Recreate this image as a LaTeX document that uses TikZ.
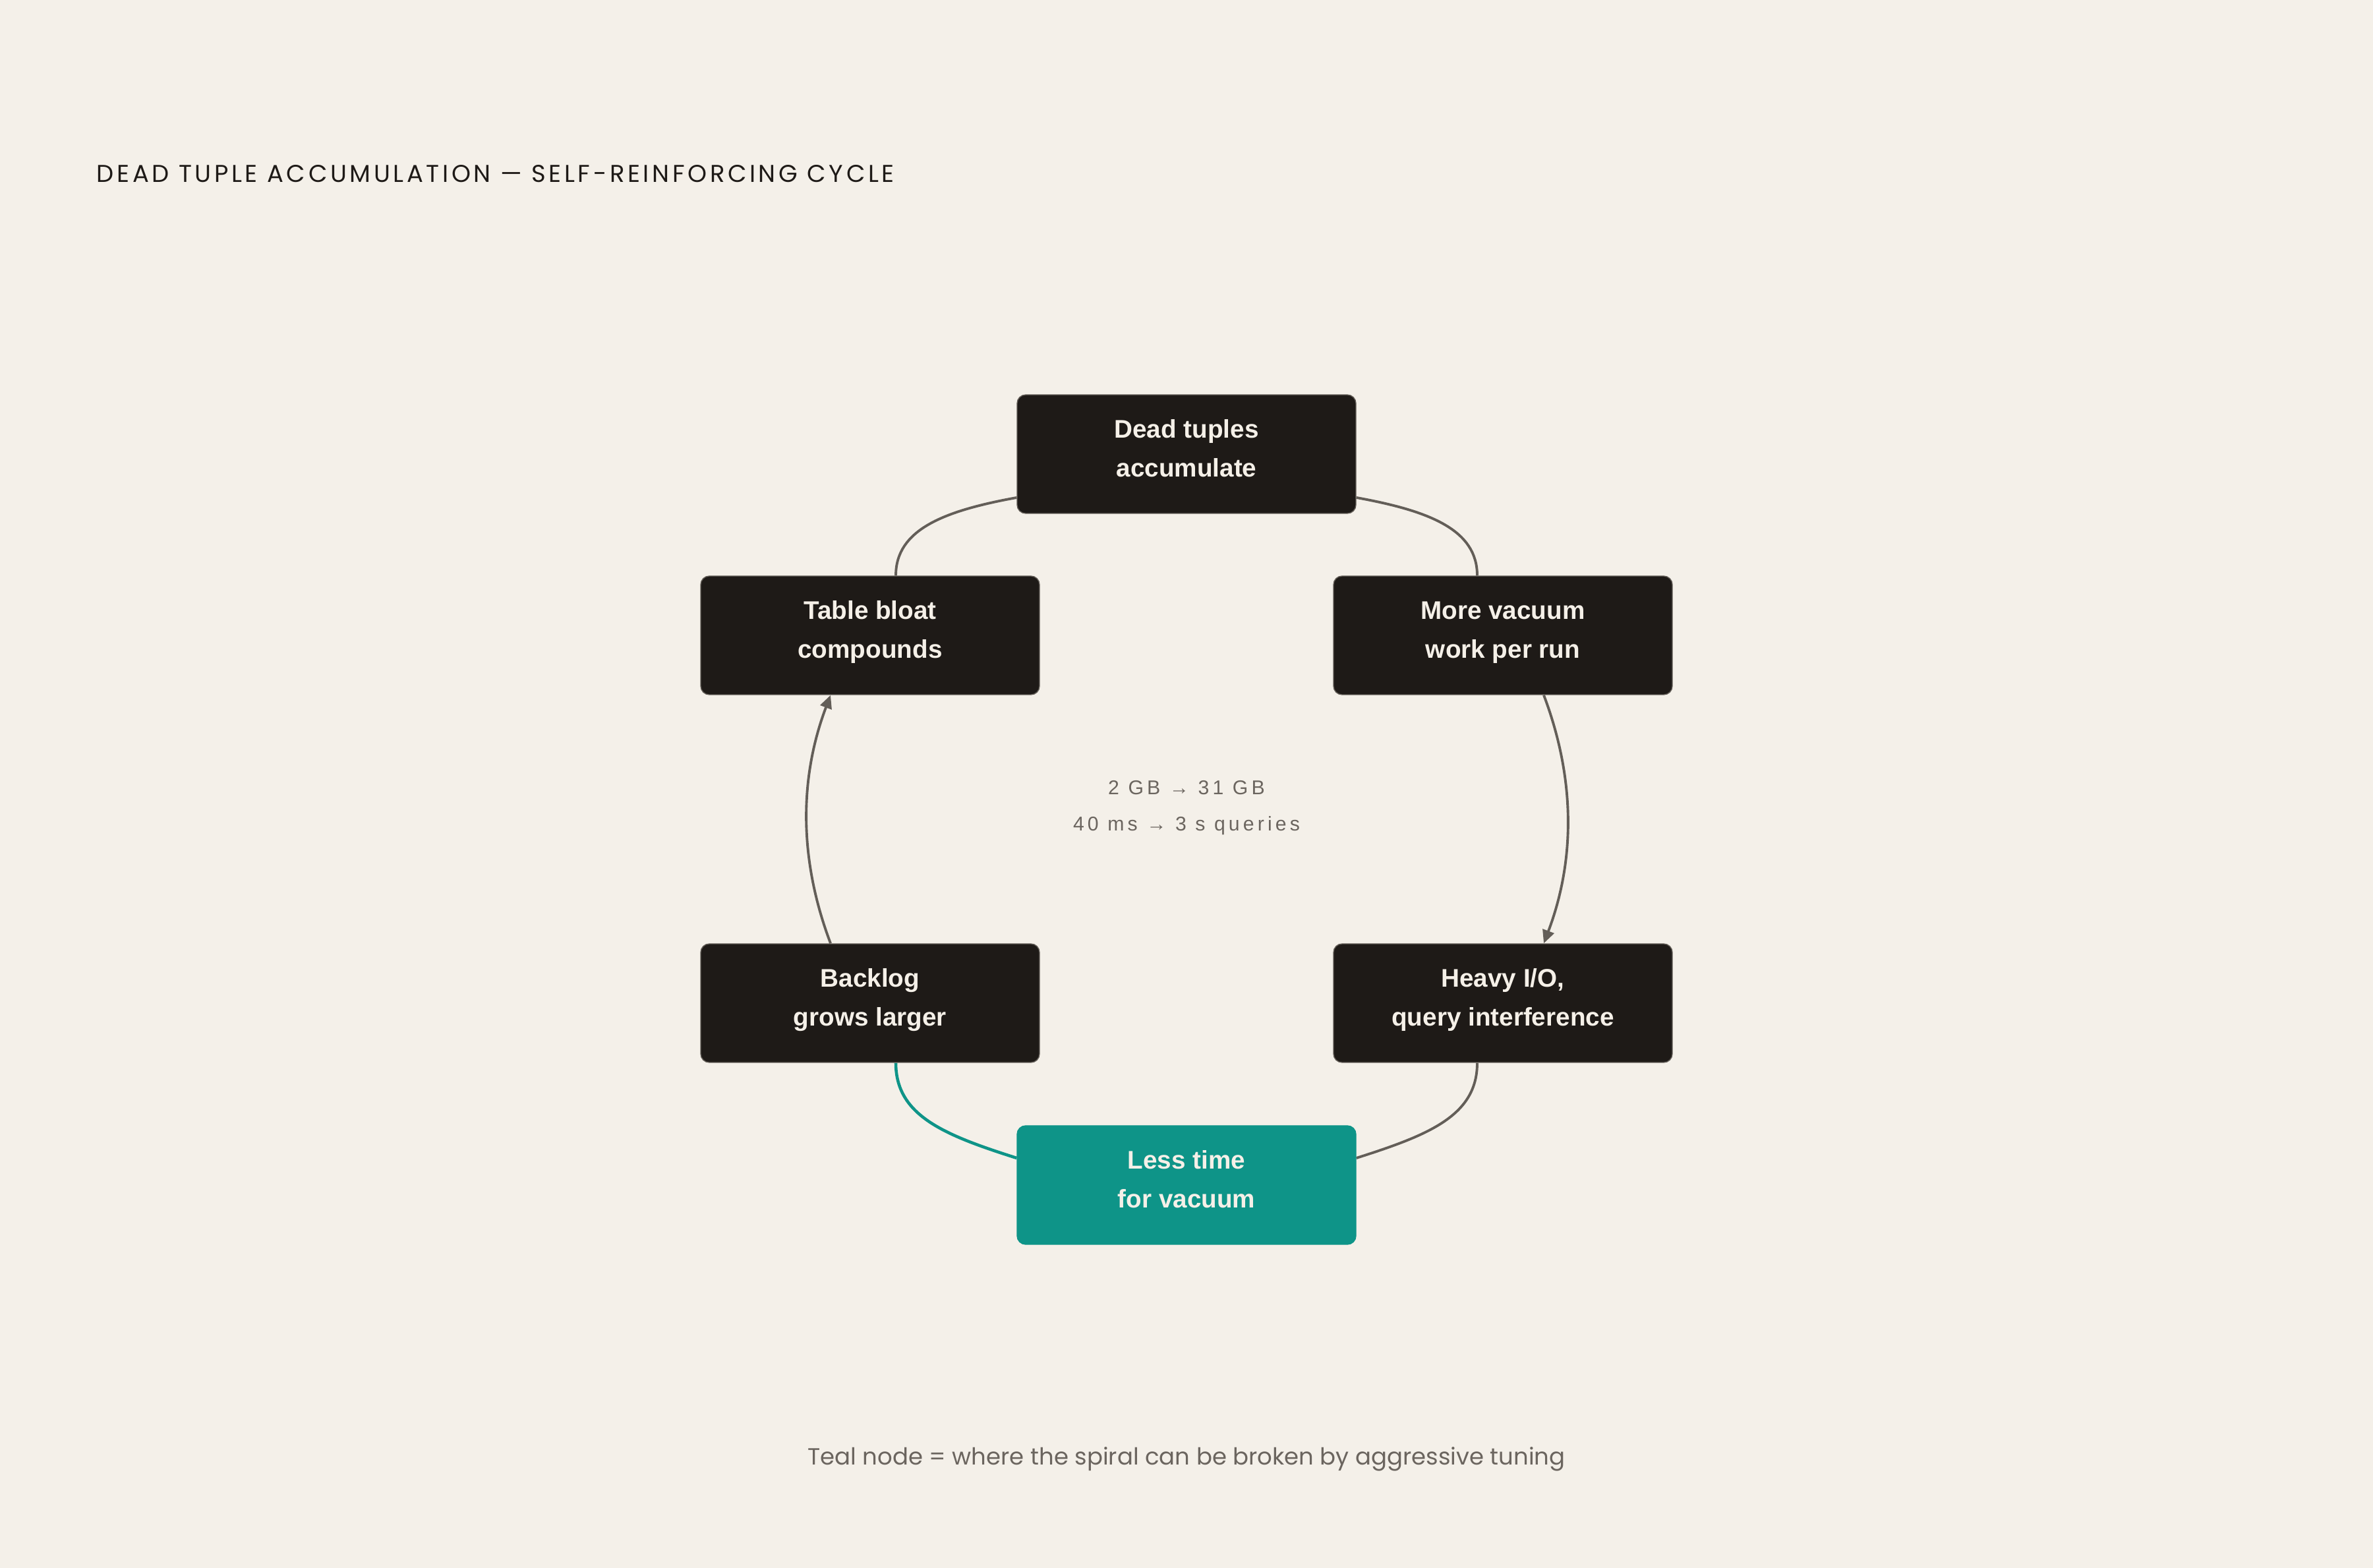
\documentclass[tikz,border=0pt]{standalone}
\usepackage{fontspec}
\usetikzlibrary{arrows.meta, calc, backgrounds}
\setmainfont{Liberation Sans}
\newfontfamily\headfont[LetterSpace=12.6]{Poppins}
\newfontfamily\notefont{Poppins}
\newfontfamily\statfont[LetterSpace=17]{Liberation Sans}
\definecolor{bg}{HTML}{F4F0E9}
\definecolor{ink}{HTML}{1E1A17}
\definecolor{paper}{HTML}{F5F0E8}
\definecolor{tealnode}{HTML}{0E9488}
\definecolor{wire}{HTML}{635E58}
\definecolor{muted}{HTML}{6B655F}
\def\lh{\rule[-6.4pt]{0pt}{15.4pt}}

\begin{document}
\begin{tikzpicture}[
  box/.style={rectangle, rounded corners=0.13cm, draw=wire, line width=0.4pt, fill=ink, text=paper,
    minimum width=5.14cm, minimum height=1.80cm, align=center,
    font=\bfseries\fontsize{11}{16.8}\selectfont},
  hot/.style={box, fill=tealnode, draw=tealnode},
  link/.style={draw=wire, line width=1.1pt},
  tip/.style={-{Triangle[length=0.2cm,width=0.18cm]}},
  plain/.style={inner sep=0pt}
]
\useasboundingbox (0,0) rectangle (36,23.79);

\node[plain] at (1.46,21.02) [anchor=base west, text=ink, font=\headfont\fontsize{10.5}{12}\selectfont] (Hd) {DEAD TUPLE ACCUMULATION — SELF-REINFORCING CYCLE};

\node[box] at (18.00,16.90) (D) {\lh Dead tuples\\\lh accumulate};
\node[box] at (22.80,14.15) (V) {\lh More vacuum\\\lh work per run};
\node[box] at (22.80, 8.57) (H) {\lh Heavy I/O,\\\lh query interference};
\node[hot] at (18.00, 5.81) (L) {\lh Less time\\\lh for vacuum};
\node[box] at (13.20, 8.57) (G) {\lh Backlog\\\lh grows larger};
\node[box] at (13.20,14.15) (T) {\lh Table bloat\\\lh compounds};

\node[plain] at (18,11.53) [align=center, text=muted, font=\statfont\fontsize{8.6}{15.6}\selectfont] (S) {2 GB → 31 GB\\40 ms → 3 s queries};

\node[plain] at (18,1.56) [anchor=base, text=muted, font=\notefont\fontsize{10.1}{12}\selectfont] (Ft) {Teal node = where the spiral can be broken by aggressive tuning};

\begin{scope}[on background layer]
\fill[bg] (0,0) rectangle (36,23.79);
\draw[link] ($(D.east)+(0,-0.66)$) .. controls +(1.1,-0.2) and +(0,0.7) .. ($(V.north)+(-0.39,0)$);
\draw[link,tip] ($(V.south)+(0.62,0)$) .. controls +(0.48,-1.27) and +(0.48,1.27) .. ($(H.north)+(0.62,0)$);
\draw[link] ($(H.south)+(-0.39,0)$) .. controls +(0,-0.8) and +(1.1,0.35) .. ($(L.east)+(0,0.41)$);
\draw[link,draw=tealnode,line width=1.3pt] ($(L.west)+(0,0.41)$) .. controls +(-1.1,0.35) and +(0,-0.8) .. ($(G.south)+(0.39,0)$);
\draw[link,tip] ($(G.north)+(-0.60,0)$) .. controls +(-0.48,1.27) and +(-0.48,-1.27) .. ($(T.south)+(-0.60,0)$);
\draw[link] ($(T.north)+(0.39,0)$) .. controls +(0,0.7) and +(-1.1,-0.2) .. ($(D.west)+(0,-0.66)$);
\end{scope}
\end{tikzpicture}
\end{document}
